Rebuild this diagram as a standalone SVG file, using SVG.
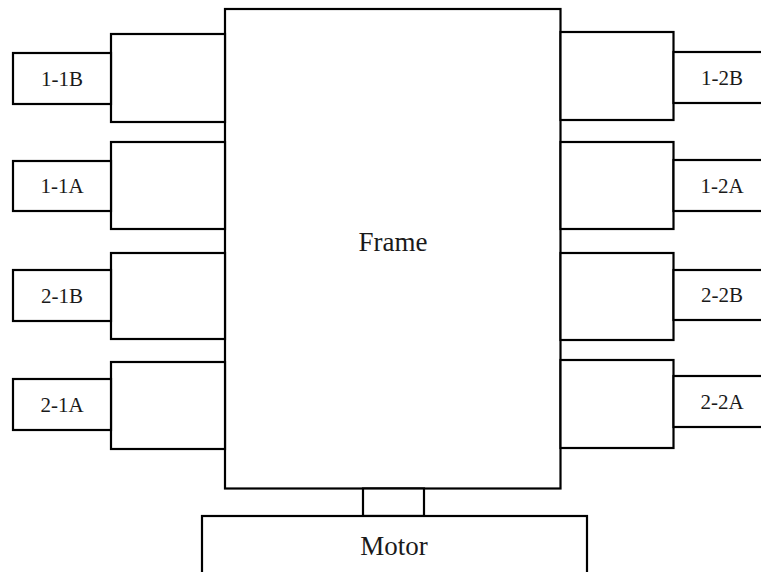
<svg xmlns="http://www.w3.org/2000/svg" width="761" height="572" viewBox="0 0 761 572">
<style>
.b{fill:#fff;stroke:#000;stroke-width:2.2}
.t{font-family:"Liberation Serif","Times New Roman",serif;fill:#1a1a1a;text-anchor:middle}
.s{font-size:21px}
.l{font-size:27px}
</style>
<rect width="761" height="572" fill="#fff"/>
<g id="frame"><rect class="b" x="225" y="9" width="335.5" height="479.5"/><text class="t l" x="393" y="251">Frame</text></g>
<g id="u11B"><rect class="b" x="111" y="34" width="114" height="88"/><rect class="b" x="13" y="53" width="98" height="51"/><text class="t s" x="62" y="86">1-1B</text></g>
<g id="u11A"><rect class="b" x="111" y="142" width="114" height="87"/><rect class="b" x="13" y="161" width="98" height="50"/><text class="t s" x="62" y="193">1-1A</text></g>
<g id="u21B"><rect class="b" x="111" y="253" width="114" height="86"/><rect class="b" x="13" y="270" width="98" height="51"/><text class="t s" x="62" y="303">2-1B</text></g>
<g id="u21A"><rect class="b" x="111" y="362" width="114" height="87"/><rect class="b" x="13" y="379" width="98" height="51"/><text class="t s" x="62" y="412">2-1A</text></g>
<g id="u12B"><rect class="b" x="560.5" y="32" width="113" height="88"/><rect class="b" x="673.5" y="52" width="100" height="51"/><text class="t s" x="722" y="85">1-2B</text></g>
<g id="u12A"><rect class="b" x="560.5" y="142" width="113" height="87"/><rect class="b" x="673.5" y="160" width="100" height="51"/><text class="t s" x="722" y="193">1-2A</text></g>
<g id="u22B"><rect class="b" x="560.5" y="253" width="113" height="87"/><rect class="b" x="673.5" y="270" width="100" height="50"/><text class="t s" x="722" y="302">2-2B</text></g>
<g id="u22A"><rect class="b" x="560.5" y="360" width="113" height="88"/><rect class="b" x="673.5" y="376" width="100" height="51"/><text class="t s" x="722" y="409">2-2A</text></g>
<g id="shaft"><rect class="b" x="363" y="488.5" width="61" height="27.5"/></g>
<g id="motor"><rect class="b" x="202" y="516" width="385" height="90"/><text class="t l" x="394" y="555">Motor</text></g>
<g id="connectors"></g>
</svg>
